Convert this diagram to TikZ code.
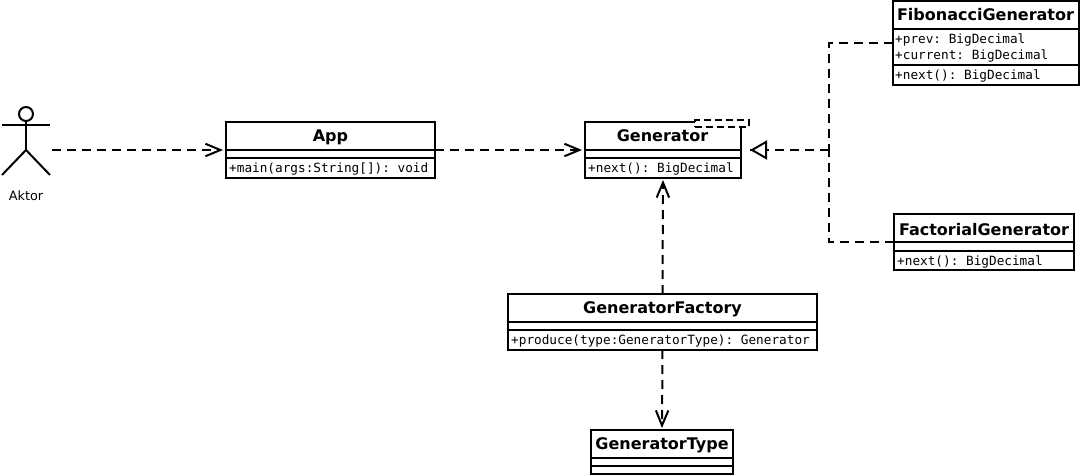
\documentclass[tikz,border=0pt]{standalone}
\usepackage{fontspec}
\setmainfont{DejaVu Sans}
\setmonofont{DejaVu Sans Mono}
\usetikzlibrary{arrows.meta,calc}
\tikzset{
  ln/.style={line width=2pt,black},
  title/.style={font=\fontsize{16}{18}\selectfont\bfseries,inner sep=0pt,anchor=base},
  member/.style={font=\fontsize{12.72}{14}\selectfont\ttfamily,inner sep=0pt,anchor=base west},
  dep/.style={line width=2pt,dash pattern=on 9pt off 6pt,-{Straight Barb[length=15pt,width=12.5pt,line width=2pt]}},
  real/.style={line width=2pt,dash pattern=on 9pt off 6pt},
  tri/.style={line width=2pt,-{Triangle[open,length=17pt,width=19pt,fill=white,line width=2pt]}},
}
\newcommand{\cbox}[7]{% name, x1, y1, x2, y2, line1, line2
  \node[draw,line width=2pt,fill=white,inner sep=0pt,outer sep=0pt,minimum width=#4pt-#2pt,minimum height=#5pt-#3pt] (#1) at ({(#2+#4)/2},{(#3+#5)/2}) {};
  \draw[ln] (#2,#6) -- (#4,#6);
  \draw[ln] (#2,#7) -- (#4,#7);
}
\begin{document}
\begin{tikzpicture}[x=1pt,y=-1pt]
\useasboundingbox (0,0) rectangle (1082,476);
\fill[white] (0,0) rectangle (1082,476);

% actor
\node[draw,circle,line width=2pt,minimum size=14pt,inner sep=0pt] (head) at (26,114) {};
\coordinate (hip) at (26,150);
\coordinate (armL) at (2,125);
\coordinate (armR) at (50,125);
\coordinate (legL) at (2,175);
\coordinate (legR) at (50,175);
\coordinate (actorOut) at (52,150);
\draw[ln] (head.south) -- (hip);
\draw[ln] (armL) -- (armR);
\draw[ln] (legL) -- (hip) -- (legR);
\node[font=\fontsize{12.8}{14}\selectfont,inner sep=0pt] (aktor) at (26,196) {Aktor};

% classes
\cbox{App}{226}{122}{435}{178}{150}{158}
\node[title] (tApp) at (330.5,142) {App};
\node[member] (mApp) at (229,172) {+main(args:String[]): void};

\cbox{Gen}{585}{122}{741}{178}{150}{158}
\node[draw,dash pattern=on 7pt off 4pt,line width=2pt,fill=white,inner sep=0pt,outer sep=0pt,minimum width=54pt,minimum height=7pt] (note) at (722,123.5) {};
\node[title] (tGen) at (662.5,142) {Generator};
\node[member] (mGen) at (588,172) {+next(): BigDecimal};

\cbox{Fib}{893}{1}{1079}{85}{29}{65}
\node[title] (tFib) at (985.5,21) {FibonacciGenerator};
\node[member] (m1Fib) at (895,44) {+prev: BigDecimal};
\node[member] (m2Fib) at (895,60) {+current: BigDecimal};
\node[member] (m3Fib) at (895,79.5) {+next(): BigDecimal};

\cbox{Fac}{894}{214}{1074}{270}{242}{251}
\node[title] (tFac) at (984,235) {FactorialGenerator};
\node[member] (mFac) at (897,265) {+next(): BigDecimal};

\cbox{Fty}{508}{294}{817}{350}{322}{330}
\node[title] (tFty) at (662.5,313) {GeneratorFactory};
\node[member] (mFty) at (511,344) {+produce(type:GeneratorType): Generator};

\cbox{Typ}{591}{430}{733}{474}{458}{466}
\node[title] (tTyp) at (662,449) {GeneratorType};

% connectors
\draw[dep] (actorOut) -- ($(App.west)+(-3,0)$);
\draw[dep] (App.east) -- ($(Gen.west)+(-3,0)$);
\draw[dep] (Fty.north) -- ($(Gen.south)+(0,2)$);
\draw[dep] (Fty.south) -- ($(Typ.north)+(0,-2)$);
\coordinate (jct) at (829,150);
\coordinate (tipGen) at ($(Gen.east)+(9,0)$);
\draw[real] (Fib.west) -| (jct);
\draw[real] (Fac.west) -| (jct);
\draw[real] (jct) -- (tipGen);
\draw[tri] ($(tipGen)+(18,0)$) -- (tipGen);
\end{tikzpicture}
\end{document}
